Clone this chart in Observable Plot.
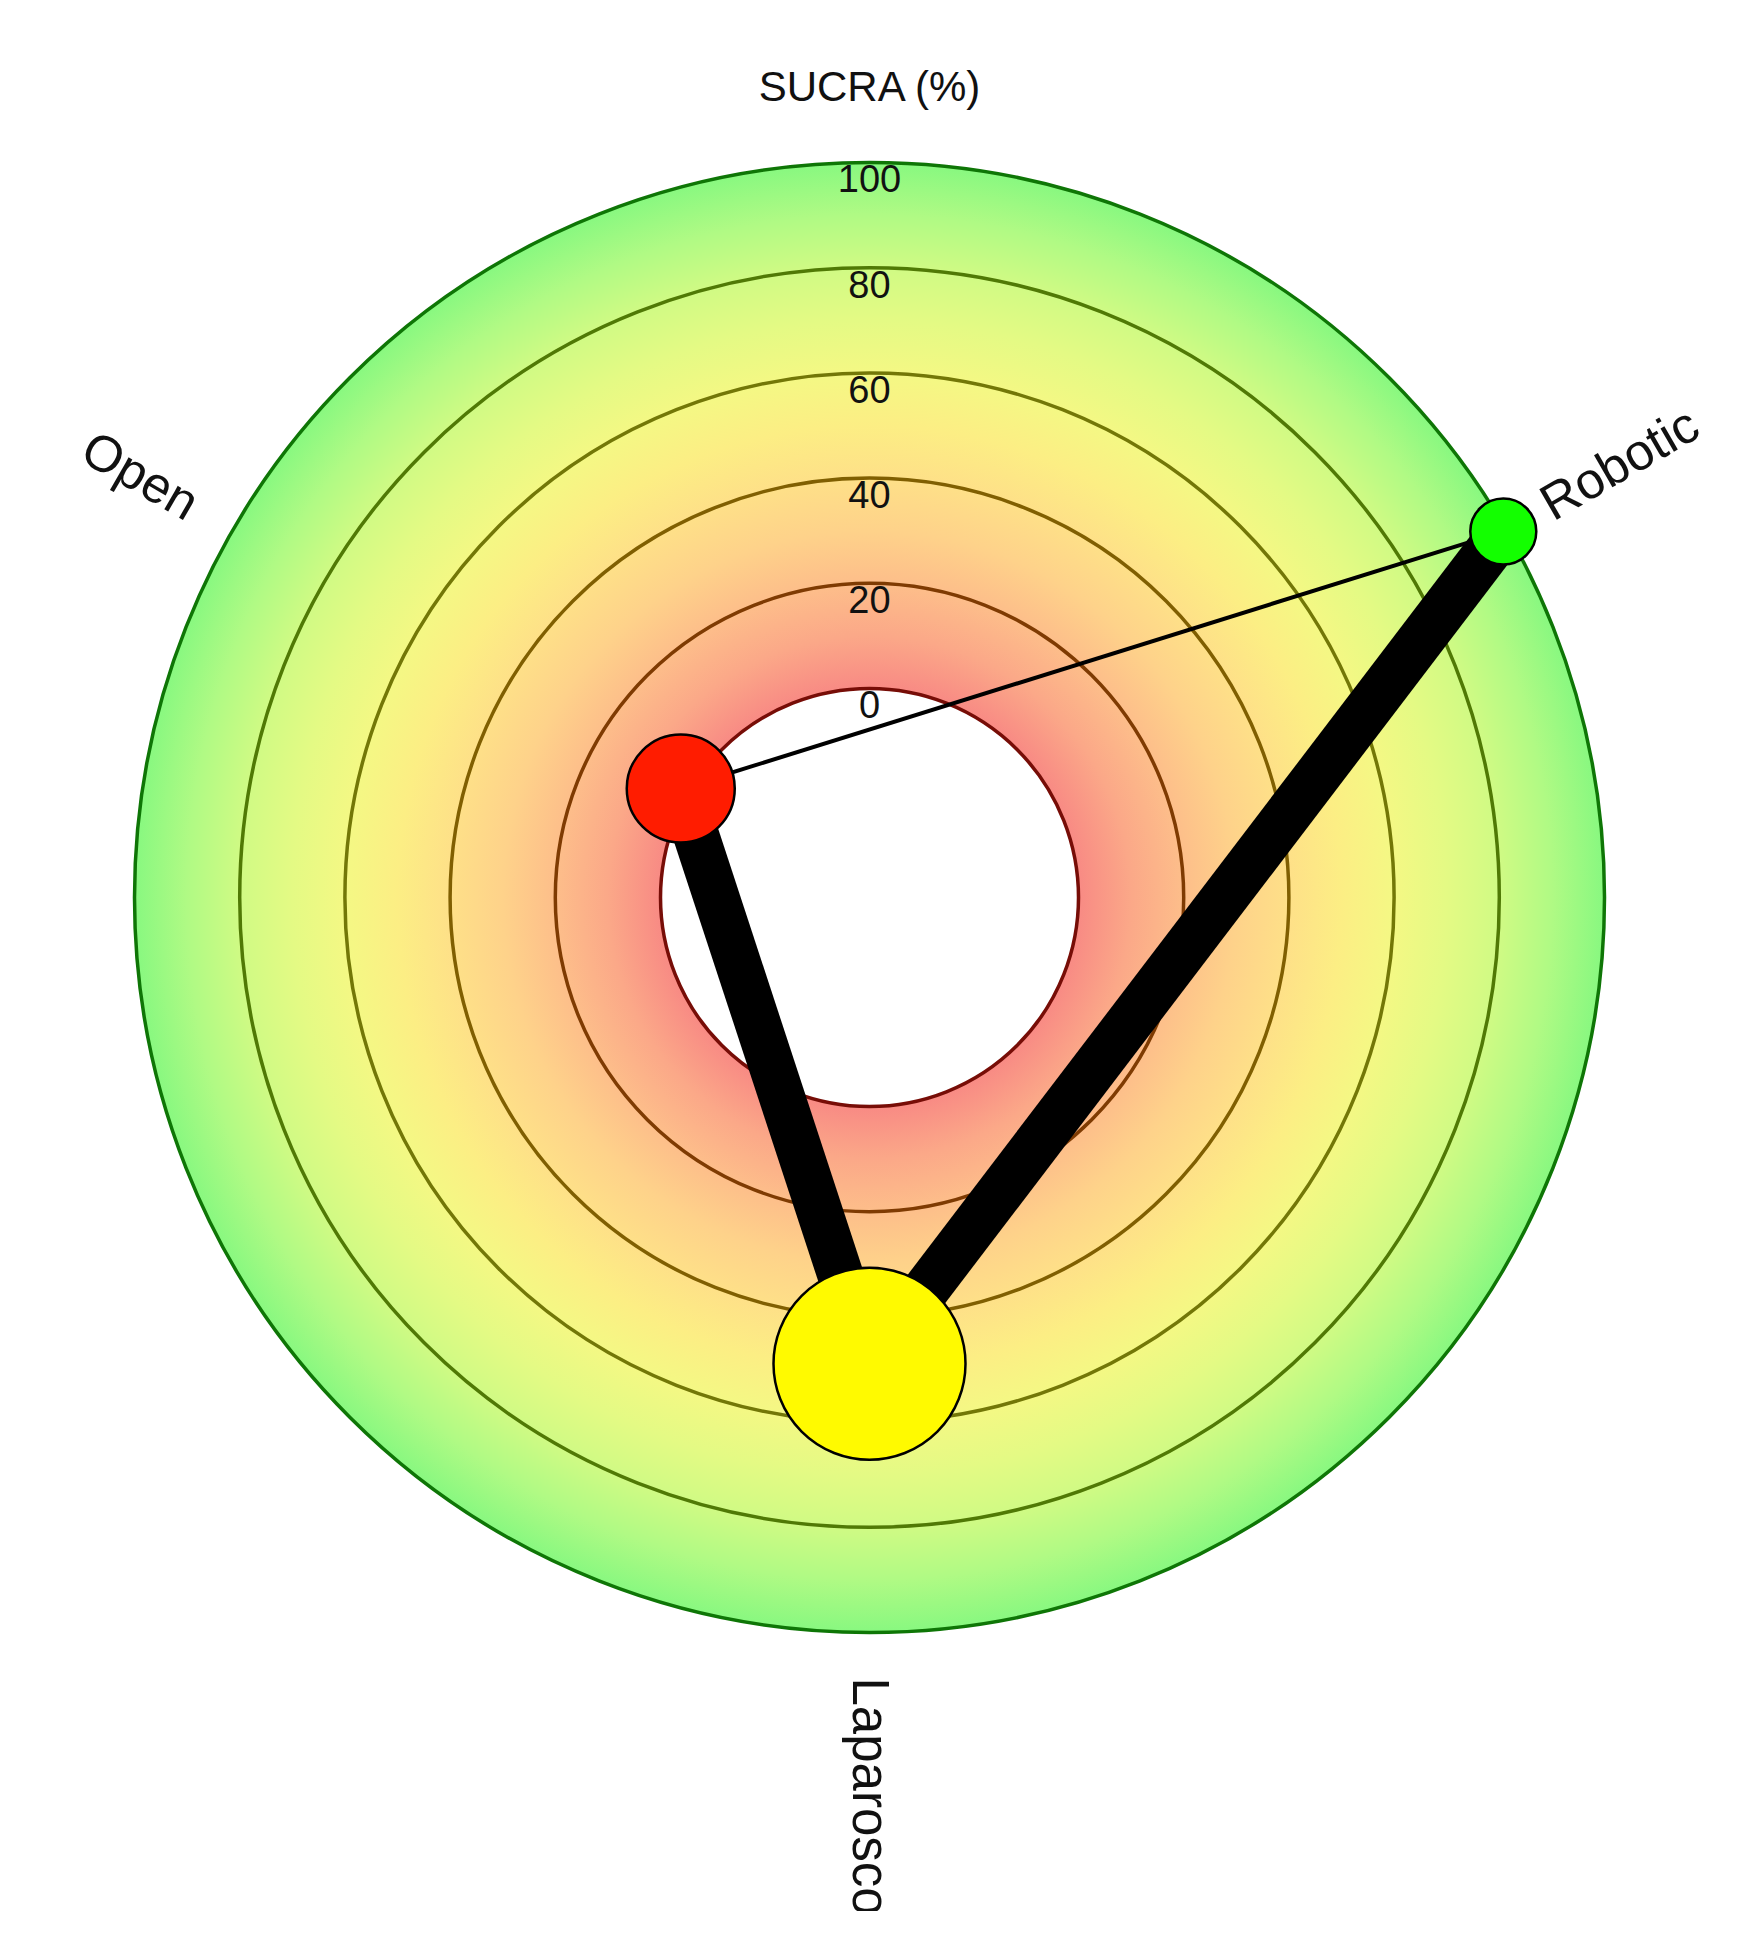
<!DOCTYPE html>
<html>
<head>
<meta charset="utf-8">
<script src="https://cdn.jsdelivr.net/npm/d3@7"></script>
<script src="https://cdn.jsdelivr.net/npm/@observablehq/plot@0.6"></script>
<style>
  html, body { margin: 0; padding: 0; background: #fff; overflow: hidden; }
  #chart svg { display: block; }
</style>
</head>
<body>
<div id="chart"></div>
<script>
// ---- data ----
const treatments = ["Open", "Robotic", "Laparoscopic"];
const sucra = [1.7, 99.4, 48.9];            // SUCRA (%)
const nodeSize = [54, 33, 96];              // node radius (weight)
const edgeFrom = ["Open", "Open", "Robotic"];
const edgeTo = ["Robotic", "Laparoscopic", "Laparoscopic"];
const edgeWeight = [4, 46, 47];             // edge line width (weight)
const ringTicks = [0, 20, 40, 60, 80, 100];
const gradientStops = [0, 10, 20, 30, 40, 50, 60, 70, 80, 90, 100];
const gradientColors = ["#f88a84", "#fba888", "#fdbe8a", "#fed28a", "#fee088",
                        "#fcee84", "#f4f884", "#e4fa84", "#d0fa84", "#b0fa84", "#88f880"];
const axisTitle = "SUCRA (%)";

// ---- layout ----
const W = 1746, H = 1911, CX = 869, CY = 897;
const INNER = 209, OUTER = 735, LABEL_R = 780, TITLE_Y = -810;
const rad = d3.scaleLinear().domain([0, 100]).range([INNER, OUTER]);
const startAngle = -60;
const toRad = a => a * Math.PI / 180;

const nodes = treatments.map((name, i) => {
  const angle = startAngle + i * 360 / treatments.length;
  const rr = rad(sucra[i]);
  return {
    name, v: sucra[i], size: nodeSize[i], angle,
    x: rr * Math.sin(toRad(angle)),
    y: -rr * Math.cos(toRad(angle))
  };
});
const byName = new Map(nodes.map(n => [n.name, n]));
const edges = edgeFrom.map((a, i) => ({a: byName.get(a), b: byName.get(edgeTo[i]), w: edgeWeight[i]}));

const labels = nodes.map(n => {
  const th = ((n.angle % 360) + 360) % 360;
  const left = th > 180 && th < 360;
  return {
    name: n.name,
    left,
    x: LABEL_R * Math.sin(toRad(th)),
    y: -LABEL_R * Math.cos(toRad(th)),
    rotate: left ? th - 270 : th - 90
  };
});

const zero = () => 0;

const plot = Plot.plot({
  width: W,
  height: H,
  margin: 0,
  x: {domain: [-CX, W - CX], range: [0, W], axis: null},
  y: {domain: [-CY, H - CY], range: [0, H], axis: null},
  r: {type: "linear", domain: [0, 1000], range: [0, 1000]},
  color: {type: "linear", domain: [0, 50, 100], range: ["#ff1400", "#ffff00", "#10ff00"], interpolate: "rgb"},
  style: {fontFamily: "Liberation Sans, Arial, Helvetica, sans-serif", background: "white", overflow: "hidden"},
  marks: [
    // gradient disc
    Plot.dot([100], {x: zero, y: zero, r: d => rad(d), fill: "url(#sucraGrad)", stroke: "none"}),
    // inner hole
    Plot.dot([0], {x: zero, y: zero, r: d => rad(d), fill: "white", stroke: "none"}),
    // rings (stroke tinted by a darkened version of the same gradient)
    Plot.dot(ringTicks, {x: zero, y: zero, r: d => rad(d), fill: "none", stroke: "url(#sucraGradDark)", strokeWidth: 3.5}),
    // ring labels
    Plot.text(ringTicks, {x: zero, y: d => -rad(d), text: d => String(d), lineAnchor: "top", dy: 3, fontSize: 38, fill: "#111"}),
    // edges
    Plot.link(edges, {x1: d => d.a.x, y1: d => d.a.y, x2: d => d.b.x, y2: d => d.b.y, stroke: "black", strokeWidth: d => d.w}),
    // nodes
    Plot.dot(nodes, {x: "x", y: "y", r: "size", fill: "v", stroke: "black", strokeWidth: 2.5}),
    // treatment labels
    Plot.text(labels.filter(d => !d.left), {x: "x", y: "y", text: "name", rotate: "rotate", textAnchor: "start", lineAnchor: "middle", fontSize: 51, fill: "#111"}),
    Plot.text(labels.filter(d => d.left), {x: "x", y: "y", text: "name", rotate: "rotate", textAnchor: "end", lineAnchor: "middle", fontSize: 51, fill: "#111"}),
    // title
    Plot.text([axisTitle], {x: zero, y: () => TITLE_Y, text: d => d, fontSize: 42, fill: "#111"})
  ]
});

// radial gradient definitions (user space, centred on the plot origin)
const ns = "http://www.w3.org/2000/svg";
const sx = plot.scale("x"), sy = plot.scale("y");
const gcx = sx.apply(0), gcy = sy.apply(0);
const defs = document.createElementNS(ns, "defs");
function makeGradient(id, colorFn) {
  const grad = document.createElementNS(ns, "radialGradient");
  grad.setAttribute("id", id);
  grad.setAttribute("gradientUnits", "userSpaceOnUse");
  grad.setAttribute("cx", gcx);
  grad.setAttribute("cy", gcy);
  grad.setAttribute("r", OUTER);
  gradientStops.forEach((v, i) => {
    const s = document.createElementNS(ns, "stop");
    s.setAttribute("offset", (rad(v) / OUTER).toFixed(4));
    s.setAttribute("stop-color", colorFn(gradientColors[i]));
    grad.appendChild(s);
  });
  defs.appendChild(grad);
}
makeGradient("sucraGrad", c => c);
makeGradient("sucraGradDark", c => { const h = d3.hsl(c); h.l *= 0.33; return h.formatHex(); });
plot.insertBefore(defs, plot.firstChild);

document.getElementById("chart").appendChild(plot);
</script>
</body>
</html>
